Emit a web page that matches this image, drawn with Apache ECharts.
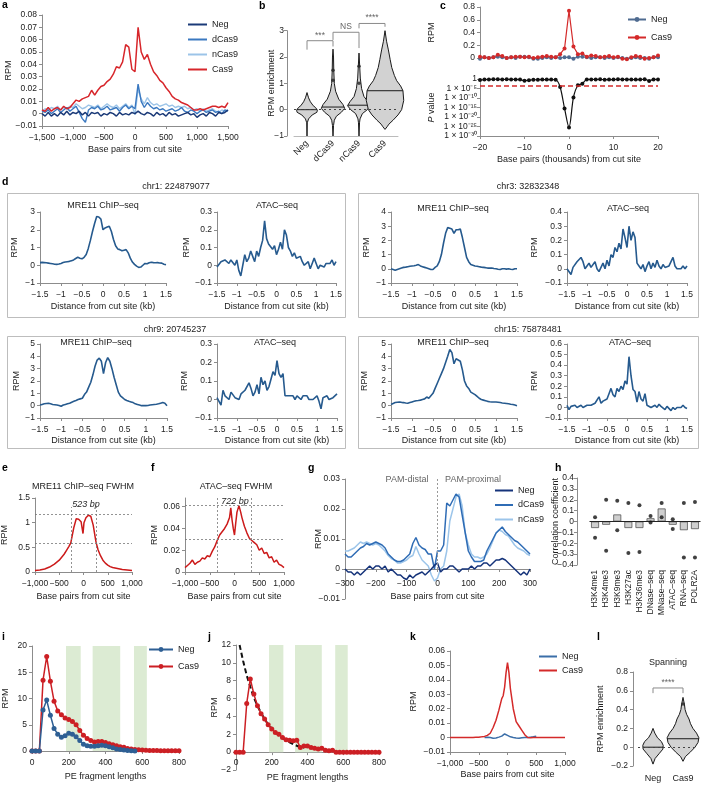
<!DOCTYPE html>
<html><head><meta charset="utf-8"><title>chart</title>
<script src="https://cdn.jsdelivr.net/npm/echarts@6/dist/echarts.min.js"></script>
<style>html,body{margin:0;padding:0;background:#fff;}#chart{width:705px;height:785px;}</style>
</head><body><div id="chart"></div>
<script>
// ================= DATA =================
// Panel a
const aX = [-1500,-1450,-1400,-1350,-1300,-1250,-1200,-1150,-1100,-1050,-1000,-950,-900,-850,-800,-750,-700,-650,-600,-550,-500,-450,-400,-350,-300,-250,-200,-150,-100,-50,0,50,100,150,200,250,300,350,400,450,500,550,600,650,700,750,800,850,900,950,1000,1050,1100,1150,1200,1250,1300,1350,1400,1450,1500];
const aCas9 = [0.003,0.002,0.005,0.002,0.004,0.005,0.003,0.006,0.004,0.005, 0.008,0.011,0.010,0.012,0.013,0.014,0.019,0.015,0.019,0.022, 0.023,0.026,0.028,0.032,0.038,0.037,0.042,0.056,0.054,0.036, 0.034,0.070,0.050,0.044,0.048,0.040,0.034,0.031,0.027,0.025, 0.021,0.018,0.014,0.012,0.011,0.009,0.008,0.007,0.005,0.003, 0.003,0.004,0.003,0.004,0.005,0.006,0.006,0.005,0.006,0.005,0.009];
const aNeg = [0.000,-0.002,0.001,-0.002,0.000,-0.002,0.001,-0.001,0.002,-0.001, 0.001,0.000,0.002,-0.001,0.001,-0.002,0.001,0.000,0.001,-0.002, 0.000,-0.001,0.001,0.000,-0.002,0.001,-0.001,0.000,-0.001,0.001, 0.000,0.002,0.000,-0.001,0.001,0.000,-0.002,0.001,-0.001,0.000, -0.002,0.001,-0.001,0.000,-0.002,-0.001,0.000,0.001,-0.001,0.000, -0.003,-0.001,0.000,-0.002,0.001,0.000,-0.002,0.001,0.000,0.001,0.003];
const aDCas9 = [0.002,0.001,0.003,0.000,0.002,0.004,0.001,0.003,0.005,0.002, 0.004,0.006,0.001,-0.004,-0.007,0.003,0.005,0.004,0.006,0.003, 0.004,0.006,0.003,0.004,0.005,0.002,0.005,0.007,0.004,0.006, 0.004,0.024,0.010,0.005,0.009,0.006,0.004,0.005,0.003,0.004, 0.002,0.003,0.004,0.002,0.003,0.005,0.002,0.001,0.003,0.002, 0.000,0.002,0.003,0.001,0.002,0.003,0.001,0.002,0.000,0.003,0.002];
const aNCas9 = [0.002,0.004,0.003,0.005,0.004,0.006,0.003,0.005,0.004,0.006, 0.005,0.008,0.006,0.004,0.005,0.007,0.006,0.005,0.007,0.004, 0.006,0.008,0.006,0.005,0.007,0.004,0.006,0.008,0.005,0.007, -0.001,0.020,0.012,0.008,0.013,0.009,0.007,0.008,0.006,0.007, 0.008,0.006,0.007,0.005,0.006,0.005,0.006,0.004,0.005,0.003, 0.004,0.002,0.004,0.002,0.003,0.004,0.002,0.001,0.003,0.002,0.003];

// Panel b (violin profiles: [value, half-width as fraction of category band])
const bCats = ['Neg','dCas9','nCas9','Cas9'];
const bMedians = [0.0, 0.1, 0.17, 0.72];
const bViolinNeg = [[-1,0],[-0.5,0.01],[-0.35,0.06],[-0.2,0.2],[-0.1,0.38],[-0.02,0.4],[0.08,0.33],[0.15,0.24],[0.3,0.13],[0.45,0.06],[0.65,0]];
const bViolinDCas9 = [[-1,0],[-0.6,0.02],[-0.4,0.05],[-0.25,0.13],[-0.1,0.32],[0.05,0.45],[0.2,0.38],[0.4,0.22],[0.7,0.1],[1.0,0.05],[1.5,0.03],[2.0,0.02],[2.3,0]];
const bViolinNCas9 = [[-1,0],[-0.5,0.02],[-0.35,0.04],[-0.15,0.13],[0,0.32],[0.15,0.44],[0.3,0.35],[0.5,0.19],[0.8,0.1],[1.2,0.05],[1.6,0.03],[2.15,0]];
const bViolinCas9 = [[-0.75,0],[-0.65,0.08],[-0.55,0.15],[-0.4,0.31],[-0.2,0.5],[0,0.64],[0.35,0.72],[0.72,0.69],[0.9,0.6],[1.1,0.45],[1.3,0.36],[1.6,0.26],[1.9,0.2],[2.27,0.13],[2.6,0.06],[3.0,0]];
const bDots = [[1,1.12],[1,1.5],[2,1.0],[2,1.65]];
const bBrackets = [[0,1,2.62,2.28,2.40],[1,2,2.94,2.65,2.34],[2,3,3.275,3.09,3.15]];
const bSig = ['***','NS','****'];

// Panel c
const cX = [-20,-19,-18,-17,-16,-15,-14,-13,-12,-11,-10,-9,-8,-7,-6,-5,-4,-3,-2,-1,0,1,2,3,4,5,6,7,8,9,10,11,12,13,14,15,16,17,18,19,20];
const cCas9 = [0.02,0.01,0.00,0.01,0.05,0.03,0.00,0.01,0.02,0.02,0.01,0.02,0.00,0.01,0.02,0.03,0.02,0.01,0.06,0.15,0.74,0.18,0.06,0.07,0.02,0.04,0.03,0.01,0.02,0.03,0.01,0.02,-0.01,-0.02,0.01,0.03,0.02,-0.01,0.00,0.01,0.04];
const cNeg = [-0.01,0.01,0.00,0.01,0.02,0.01,0.00,0.01,0.00,0.02,0.02,0.01,-0.01,-0.01,0.00,0.01,0.00,0.01,0.00,0.01,0.01,-0.01,0.02,0.02,0.01,0.00,0.01,0.01,0.00,0.01,0.00,0.01,0.00,-0.01,0.00,0.01,0.00,0.00,-0.01,0.01,0.01];
const cLog10P = [-0.5,-0.3,-0.2,-0.1,-0.1,-0.2,-0.1,-0.2,-0.2,-0.3,-0.9,-0.6,-0.4,-0.4,-0.3,-0.3,-0.3,-0.4,-4.2,-15.5,-25.5,-9.7,-3.3,-2.5,-0.2,-0.2,-0.2,-0.1,-0.4,-0.3,-0.3,-0.1,-0.2,-0.2,-0.3,-0.3,-0.3,-0.1,-1.0,-0.2,-0.2];
const cThreshold = -3.6;

// Panel d
const dX = [-1.5,-1.45,-1.4,-1.35,-1.3,-1.25,-1.2,-1.15,-1.1,-1.05,-1,-0.95,-0.9,-0.85,-0.8,-0.75,-0.7,-0.65,-0.6,-0.55,-0.5,-0.45,-0.4,-0.35,-0.3,-0.25,-0.2,-0.15,-0.1,-0.05,0,0.05,0.1,0.15,0.2,0.25,0.3,0.35,0.4,0.45,0.5,0.55,0.6,0.65,0.7,0.75,0.8,0.85,0.9,0.95,1,1.05,1.1,1.15,1.2,1.25,1.3,1.35,1.4,1.45,1.5];
const dChr1Mre11 = [0.15,0.16,0.15,0.14,0.12,0.10,0.08,0.06,0.05,0.07, 0.10,0.15,0.18,0.20,0.22,0.26,0.30,0.38,0.45,0.40, 0.36,0.45,0.60,0.95,1.40,1.90,2.35,2.75,2.72,2.60, 2.00,2.10,2.15,2.20,1.90,1.45,1.10,0.92,0.88,0.82, 0.85,0.88,0.70,0.40,0.18,0.05,-0.05,-0.12,-0.10,0.00, 0.10,0.08,0.14,0.17,0.15,0.14,0.15,0.13,0.12,0.06,0.03];
const dChr1Atac = [-0.01,0.00,0.02,0.01,0.03,0.02,0.01,0.03,0.04,0.00, 0.03,-0.03,-0.06,0.00,0.06,0.02,0.04,0.08,0.05,0.02, 0.08,0.05,0.10,0.14,0.25,0.15,0.12,0.13,0.09,0.11, 0.06,0.09,0.13,0.09,0.20,0.17,0.10,0.08,0.05,0.07, 0.04,0.03,0.05,0.02,0.00,0.01,0.02,-0.02,0.01,0.04, 0.01,-0.02,0.00,0.01,-0.01,0.01,0.00,0.01,0.03,0.00,0.02];
const dChr3Mre11 = [0.00,-0.05,-0.10,-0.05,0.00,0.05,0.10,0.12,0.15,0.18, 0.20,0.22,0.25,0.30,0.20,0.15,0.10,0.05,0.00,-0.05, -0.05,0.10,0.20,0.50,1.00,1.80,2.50,2.90,2.85,2.80, 2.50,2.75,2.75,2.80,2.20,1.50,0.80,0.50,0.30,0.25, 0.20,0.18,0.15,0.12,0.10,0.08,0.05,0.05,0.05,0.02, 0.00,-0.03,-0.05,0.00,0.00,-0.02,0.00,-0.03,-0.05,0.00,0.00];
const dChr3Atac = [0.00,-0.01,-0.04,0.01,0.02,0.05,0.04,0.08,0.05,0.00, 0.02,0.04,0.01,0.00,0.05,0.00,-0.02,0.01,0.04,0.00, 0.06,0.02,0.10,0.08,0.15,0.12,0.18,0.14,0.28,0.22, 0.15,0.30,0.20,0.26,0.22,0.04,0.02,0.00,0.03,-0.02, 0.02,0.05,0.00,0.04,0.01,0.06,0.02,0.00,0.03,0.01, 0.00,0.02,0.03,0.08,0.02,0.00,0.01,0.00,0.02,0.00,0.02];
const dChr9Mre11 = [0.05,0.10,0.15,0.18,0.20,0.15,0.10,0.08,0.05,0.02, -0.05,0.05,0.10,0.15,0.20,0.28,0.35,0.42,0.50,0.55, 0.60,0.90,1.10,1.50,1.90,2.50,3.20,3.70,3.85,3.60, 2.60,3.50,3.90,3.60,3.00,2.30,1.70,1.10,0.80,0.65, 0.50,0.42,0.35,0.30,0.25,0.15,0.10,0.05,0.00,0.00, 0.00,0.02,0.05,0.08,0.10,0.12,0.15,0.20,0.25,0.20,0.00];
const dChr9Atac = [0.01,0.00,-0.03,0.05,0.02,0.03,0.00,0.04,0.03,0.01, 0.02,0.00,0.03,0.02,0.05,0.04,0.09,0.06,0.02,0.04, 0.08,0.03,0.12,0.08,0.10,0.05,0.07,0.08,0.15,0.13, 0.21,0.14,0.12,0.14,0.02,0.01,0.02,0.01,0.02,0.00, 0.02,0.01,0.00,0.02,0.01,0.02,0.00,0.01,0.00,-0.01, 0.02,-0.01,-0.05,0.01,0.00,0.02,0.00,-0.01,0.01,0.00,0.03];
const dChr15Mre11 = [0.10,0.18,0.25,0.28,0.30,0.27,0.25,0.22,0.20,0.25, 0.30,0.35,0.40,0.42,0.45,0.50,0.55,0.70,0.60,0.80, 1.00,1.40,1.80,2.20,2.60,3.00,3.50,4.00,4.55,4.30, 3.40,3.80,3.70,3.60,2.90,2.00,1.60,1.40,1.10,1.00, 0.90,0.75,0.60,0.50,0.45,0.40,0.35,0.32,0.30,0.30, 0.30,0.28,0.25,0.22,0.20,0.18,0.15,0.12,0.10,0.05,0.00];
const dChr15Atac = [0.02,-0.02,0.01,0.00,0.02,0.00,0.01,0.02,0.00,0.01, 0.02,0.01,0.02,0.03,0.04,0.05,0.10,0.04,0.06,0.05, 0.08,0.13,0.18,0.12,0.10,0.18,0.15,0.20,0.17,0.25, 0.22,0.48,0.30,0.17,0.15,0.05,0.15,0.08,0.06,0.13, 0.02,0.03,0.00,0.01,0.02,0.00,0.03,0.01,0.02,-0.02, 0.01,0.00,-0.03,0.00,-0.02,0.00,-0.01,0.00,0.02,0.00,-0.01];

// Panel e, f
const eX = [-1000,-950,-900,-850,-800,-750,-700,-650,-600,-550,-500,-450,-400,-350,-300,-262,-250,-200,-150,-100,-50,-10,10,50,100,125,150,200,250,262,300,350,400,450,500,550,600,650,700,750,800,850,900,950,1000];
const eY = [0.03,0.035,0.04,0.05,0.06,0.08,0.10,0.13,0.16,0.20,0.24,0.30,0.36,0.44,0.52,0.59,0.63,0.90,1.08,1.07,1.02,0.78,1.00,1.10,1.15,1.17,1.13,0.95,0.65,0.59,0.45,0.33,0.24,0.18,0.14,0.11,0.09,0.08,0.07,0.06,0.05,0.045,0.04,0.035,0.03];
const eFwhmX = [-262, 262];
const eFwhmY = [1.18, 0.59];
const fX = [-1000,-950,-900,-850,-800,-750,-700,-650,-600,-550,-500,-450,-400,-350,-300,-250,-200,-150,-100,-75,-50,-25,0,25,50,90,125,150,200,250,300,350,400,450,500,550,600,650,700,750,800,850,900,950,1000];
const fY = [0.004,0.006,0.008,0.011,0.007,0.009,0.010,0.013,0.012,0.015,0.014,0.019,0.023,0.029,0.034,0.037,0.040,0.044,0.050,0.059,0.048,0.040,0.034,0.045,0.055,0.061,0.055,0.050,0.042,0.036,0.031,0.029,0.027,0.025,0.020,0.022,0.017,0.018,0.013,0.014,0.009,0.011,0.007,0.006,0.004];
const fFwhmX = [-340, 340];
const fFwhmY = [0.061, 0.0305];

// Panel g
const gX = [-300,-290,-280,-270,-260,-250,-240,-230,-220,-210,-200,-190,-180,-170,-160,-150,-140,-130,-120,-110,-100,-90,-80,-70,-60,-50,-40,-30,-20,-10,0,10,20,30,40,50,60,70,80,90,100,110,120,130,140,150,160,170,180,190,200,210,220,230,240,250,260,270,280,290,300];
const gNeg = [0.000,-0.001,-0.001,-0.002,-0.001,-0.002,-0.001,0.000,0.001,0.000, 0.001,0.001,0.000,0.001,-0.001,0.000,-0.001,-0.002,-0.002,-0.003, -0.0035,-0.002,-0.003,-0.002,-0.0015,-0.001,-0.002,-0.001,0.000,0.0012, 0.002,-0.001,0.000,0.000,0.001,0.001,0.000,-0.001,0.000,0.000, 0.000,0.001,0.000,0.001,0.001,0.002,0.002,0.001,0.002,0.003, 0.003,0.0035,0.003,0.002,0.001,0.000,-0.001,-0.002,-0.001,-0.002,0.000];
const gDCas9 = [0.005,0.004,0.004,0.005,0.006,0.007,0.0075,0.0085,0.008,0.0085, 0.009,0.0085,0.008,0.007,0.005,0.004,0.003,0.0025,0.0025,0.003, 0.004,0.005,0.0085,0.0105,0.008,0.007,0.0065,0.005,0.005,0.000, 0.006,0.006,0.008,0.022,0.021,0.023,0.025,0.024,0.018,0.012, 0.006,0.004,0.0025,0.0025,0.0025,0.003,0.006,0.008,0.010,0.012, 0.013,0.014,0.0125,0.0115,0.0105,0.0095,0.009,0.008,0.007,0.006,0.005];
const gNCas9 = [0.006,0.006,0.0065,0.007,0.008,0.009,0.0085,0.009,0.0085,0.008, 0.0085,0.008,0.007,0.006,0.0045,0.0035,0.003,0.002,0.002,0.0025, 0.003,0.004,0.0045,0.0075,0.005,0.003,0.002,0.001,-0.002,-0.004, -0.003,0.000,0.001,0.006,0.016,0.020,0.024,0.025,0.021,0.012, 0.008,0.005,0.004,0.004,0.0035,0.004,0.005,0.007,0.0095,0.012, 0.013,0.0125,0.0115,0.011,0.0095,0.008,0.007,0.0065,0.006,0.005,0.0045];

// Panel h
const hCats = ['H3K4me1','H3K4me3','H3K9me3','H3K27ac','H3K36me3','DNase–seq','MNase–seq','ATAC–seq','RNA–seq','POLR2A'];
const hBar = [-0.06,-0.03,0.065,-0.06,-0.06,0.03,0.12,-0.03,-0.08,-0.07];
const hHigh = [0.04,0.20,0.19,0.17,0.15,0.05,0.17,0.02,0.17,0.18];
const hLow = [-0.15,-0.27,-0.08,-0.29,-0.28,-0.01,0.04,-0.07,-0.33,-0.33];

// Panel i, j
const iX = [0,20,40,60,80,100,120,140,160,180,200,220,240,260,280,300,320,340,360,380,400,420,440,460,480,500,520,540,560,580,600,620,640,660,680,700,720,740,760,780,800];
const iCas9 = [0,0,0,13.5,18.0,13.3,9.5,7.6,6.9,6.3, 6.0,5.6,5.0,3.9,3.0,2.4,2.0,1.7,1.8,1.8, 1.6,1.4,1.2,1.0,0.8,0.7,0.5,0.4,0.3,0.25, 0.2,0.15,0.1,0.1,0.08,0.06,0.05,0.05,0.04,0.03,0.03];
const iNeg = [0,0,0,7.8,9.7,6.8,4.3,3.2,2.6,2.9, 3.4,3.2,2.7,2.0,1.3,1.0,0.9,0.9,1.0,1.1, 1.0,0.8,0.6,0.4,0.3,0.2,0.1,0.05,0.02];
const fragBands = [[185,265],[330,480],[555,625]];
const jCas9 = [0,0,0,5.45,8.2,6.5,5.2,4.3,3.7,3.06, 2.6,2.2,2.0,1.64,1.4,1.34,1.27,1.34,0.52,0.7, 0.7,0.52,0.45,0.34,0.45,0.22,0.15,0.22,0,0, 0,0,0,0,0,0,0,0,0,0,0];
const jFitX = [20,40,60,80,100,120,140,160,180,200,220,240,260,280,300,320,340,360,380];
const jFit = [12.0,10.2,8.6,7.3,6.1,5.2,4.4,3.7,3.1,2.65,2.25,1.9,1.6,1.35,1.1,0.9,0.72,0.58,0.47];

// Panel k
const kX = [-1000,-950,-900,-850,-800,-750,-700,-650,-600,-550,-500,-450,-400,-350,-300,-250,-200,-150,-100,-75,-50,-25,0,25,50,100,125,150,200,250,300,350,400,450,500,550,600,650,700,750,800,850,900,950,1000];
const kCas9 = [0,0,0,0,0,0,0,0,0,0.0002,0.0003,0.0005,0.0008,0.0015,0.003,0.007,0.012,0.019,0.027,0.029,0.035,0.045,0.052,0.045,0.034,0.02,0.0155,0.011,0.008,0.005,0.002,0,-0.0002,0,0,0,0,0,0,0,0,0,0,0,0];
const kNegX = [-400,-350,-300,-250,-200,-150,-100,-50,0,50,100,150,200,250,300,350,400,450,500];
const kNeg = [0,0.0003,0,-0.0005,-0.0003,0.0003,0.001,0.0025,0.0015,0.0005,0,-0.0003,-0.0005,-0.0002,0,0,0.0003,0.0005,0.001];

// Panel l
const lCats = ['Neg','Cas9'];
const lMedians = [0.0, 0.09];
const lViolinNeg = [[-0.18,0],[-0.12,0.07],[-0.07,0.2],[-0.02,0.33],[0.02,0.34],[0.06,0.28],[0.1,0.15],[0.15,0.06],[0.2,0]];
const lViolinCas9 = [[-0.15,0],[-0.1,0.08],[-0.05,0.25],[0,0.4],[0.05,0.5],[0.1,0.53],[0.15,0.45],[0.2,0.33],[0.25,0.25],[0.3,0.2],[0.35,0.12],[0.4,0.07],[0.45,0.05],[0.53,0]];
const lDots = [[1,0.46]];
const lBrackets = [[0,1,0.63,0.575,0.575]];
const lSig = ['****'];

// ================= BUILD =================
const FONT = '"Liberation Sans", Arial, Helvetica, sans-serif';
const TC = '#222', AC = '#8c8c8c';
function fmt(v){
  v = Math.round(v*1e6)/1e6;
  const s = Math.abs(v).toLocaleString('en-US',{maximumFractionDigits:4});
  return (v<0?'\u2212':'') + s;
}
const SUP = {'-':'\u207B','0':'\u2070','1':'\u00B9','2':'\u00B2','3':'\u00B3','4':'\u2074','5':'\u2075','6':'\u2076','7':'\u2077','8':'\u2078','9':'\u2079'};
function pfmt(v){ v=Math.round(v); if(v===0) return '1'; return '1 \u00D7 10' + String(v).split('').map(c=>SUP[c]).join(''); }

const gridBoxes = [
  [42,15,186,111],      //0 a
  [294,30.7,104,105.3], //1 b
  [480,7,178,51],       //2 c top
  [480,79,178,57],      //3 c bottom
  [40,212,126,71],      //4 d1L
  [217,212,119,71],     //5 d1R
  [391,212,126,71],     //6 d2L
  [567,212,120,71],     //7 d2R
  [40,344,127,74],      //8 d3L
  [217,344,120,74],     //9 d3R
  [391,344,126,74],     //10 d4L
  [567,344,120,74],     //11 d4R
  [35,498,97,74],       //12 e
  [185,498,99,74],      //13 f
  [345,479,185,120],    //14 g
  [589.5,478,111,87],   //15 h
  [32,646,147,105],     //16 i
  [236,645,143,125],    //17 j
  [450,651,115,101],    //18 k
  [638,672,60,94]       //19 l
];
const grids = gridBoxes.map(b=>({left:b[0],top:b[1],width:b[2],height:b[3],containLabel:false,outerBoundsMode:'none'}));

function vax(gi,min,max,interval,o){
  o=o||{};
  const ax = {
    type:'value', gridIndex:gi, min:min, max:max, interval:interval, show:o.show!==false,
    offset:o.offset||0, scale:false,
    axisLine:{show:true,onZero:false,lineStyle:{color:AC,width:1}},
    axisTick:{show:true,length:3,lineStyle:{color:AC}},
    splitLine:{show:false},
    axisLabel:{formatter:o.fmt||fmt,fontSize:8.5,color:TC,fontFamily:FONT,margin:o.margin==null?5:o.margin},
    name:o.name||'', nameLocation:'middle', nameGap:o.gap||20, nameMoveOverlap:false,
    nameTextStyle:{fontSize:9,color:TC,fontFamily:FONT}
  };
  if(o.showMax===false) ax.axisLabel.showMaxLabel=false;
  if(o.rich) ax.nameTextStyle.rich=o.rich;
  return ax;
}
function xax(gi,min,max,interval,o){ o=o||{}; if(o.margin==null) o.margin=7; return vax(gi,min,max,interval,o); }
function cax(gi,data,o){
  return {type:'category',gridIndex:gi,data:data,boundaryGap:true,
    axisLine:{show:!!o.line,onZero:false,lineStyle:{color:'#bbb'}},axisTick:{show:false},splitLine:{show:false},
    axisLabel:{rotate:o.rotate||0,fontSize:o.fs||8.5,color:TC,fontFamily:FONT,margin:o.margin||5,interval:0}};
}
function pairs(xs,ys){ return ys.map((y,k)=>[xs[k],y]); }
function lineS(name,gi,xs,ys,color,w,extra){
  return Object.assign({type:'line',name:name,xAxisIndex:gi,yAxisIndex:gi,data:pairs(xs,ys),symbol:'none',showSymbol:false,
    color:color,lineStyle:{color:color,width:w},itemStyle:{color:color},animation:false,silent:true,z:2},extra||{});
}
const xAxes=[], yAxes=[], series=[], legends=[], graphics=[];

// ---- a ----
xAxes[0]=xax(0,-1500,1500,500,{name:'Base pairs from cut site',gap:19});
yAxes[0]=vax(0,-0.01,0.08,0.01,{name:'RPM',gap:29});
series.push(lineS('a_nCas9',0,aX,aNCas9,'#9cc4e8',1.4));
series.push(lineS('a_dCas9',0,aX,aDCas9,'#3a78c0',1.4));
series.push(lineS('a_Neg',0,aX,aNeg,'#1b3a78',1.5));
series.push(lineS('a_Cas9',0,aX,aCas9,'#d7262b',1.5));

// ---- violin helpers ----
function violinRender(profiles){
  return function(params, api){
    const i=params.dataIndex, prof=profiles[i], med=api.value(1);
    const band=api.size([1,0])[0];
    const cx=api.coord([i,0])[0];
    const right=prof.map(p=>[cx+p[1]*band, api.coord([i,p[0]])[1]]);
    const left=prof.slice().reverse().map(p=>[cx-p[1]*band, api.coord([i,p[0]])[1]]);
    let w=0;
    for(let k=0;k<prof.length-1;k++){const a=prof[k],b=prof[k+1]; if(med>=a[0]&&med<=b[0]){w=a[1]+(b[1]-a[1])*(med-a[0])/(b[0]-a[0]);break;}}
    const my=api.coord([i,med])[1];
    return {type:'group',children:[
      {type:'polygon',shape:{points:right.concat(left)},style:{fill:'#d2d2d2',stroke:'#1a1a1a',lineWidth:1}},
      {type:'line',shape:{x1:cx-w*band,y1:my,x2:cx+w*band,y2:my},style:{stroke:'#1a1a1a',lineWidth:1}}
    ]};
  };
}
function bracketRender(labels){
  return function(params, api){
    const p1=api.coord([api.value(0),api.value(2)]), p2=api.coord([api.value(1),api.value(2)]);
    const yl=api.coord([api.value(0),api.value(3)])[1], yr=api.coord([api.value(1),api.value(4)])[1];
    return {type:'group',children:[
      {type:'polyline',shape:{points:[[p1[0],yl],[p1[0],p1[1]],[p2[0],p2[1]],[p2[0],yr]]},style:{stroke:'#8a8a8a',fill:null,lineWidth:1}},
      {type:'text',x:(p1[0]+p2[0])/2,y:p1[1]-1,style:{text:labels[params.dataIndex],fill:'#666',fontSize:8.5,fontFamily:FONT,align:'center',verticalAlign:'bottom'}}
    ]};
  };
}
function zeroLine(gi){
  return {type:'line',name:'zero'+gi,xAxisIndex:gi,yAxisIndex:gi,data:[],silent:true,animation:false,z:1,
    markLine:{silent:true,symbol:['none','none'],label:{show:false},animation:false,
      lineStyle:{color:'#444',type:[2,3],width:1},data:[{yAxis:0}]}};
}

// ---- b ----
xAxes[1]=cax(1,bCats,{rotate:45,line:true,margin:6,fs:9});
yAxes[1]=vax(1,-1,3,1,{name:'RPM enrichment',gap:11,offset:7,margin:3});
series.push(zeroLine(1));
series.push({type:'custom',name:'bViolin',xAxisIndex:1,yAxisIndex:1,renderItem:violinRender([bViolinNeg,bViolinDCas9,bViolinNCas9,bViolinCas9]),
  data:bMedians.map((m,i)=>[i,m]),encode:{x:0,y:1},silent:true,animation:false,z:3});
series.push({type:'scatter',name:'bDots',xAxisIndex:1,yAxisIndex:1,data:bDots,symbolSize:3.5,itemStyle:{color:'#222'},silent:true,animation:false,z:4});
series.push({type:'custom',name:'bSig',xAxisIndex:1,yAxisIndex:1,renderItem:bracketRender(bSig),data:bBrackets,encode:{x:0,y:2},silent:true,animation:false,clip:false,z:4});

// ---- c ----
xAxes[2]=vax(2,-20,20,10,{show:false});
yAxes[2]=vax(2,0,0.8,0.2,{name:'RPM',gap:44});
series.push(lineS('c_Neg',2,cX,cNeg,'#4f6b90',1.2,{symbol:'circle',showSymbol:true,symbolSize:4,clip:false}));
series.push(lineS('c_Cas9',2,cX,cCas9,'#d42a2a',1.2,{symbol:'circle',showSymbol:true,symbolSize:4,clip:false}));
xAxes[3]=xax(3,-20,20,10,{name:'Base pairs (thousands) from cut site',gap:19});
yAxes[3]=vax(3,-30,0,5,{name:'{i|P} value',gap:44,fmt:pfmt,margin:3,rich:{i:{fontStyle:'italic',fontSize:9,fontFamily:FONT,color:TC}}});
series.push(lineS('c_P',3,cX,cLog10P,'#111',1.2,{symbol:'circle',showSymbol:true,symbolSize:4,smooth:0.3,
  markLine:{silent:true,symbol:['none','none'],label:{show:false},animation:false,lineStyle:{color:'#d42a2a',type:[5,3],width:1.5},data:[{yAxis:cThreshold}]}}));

// ---- d ----
const dSets = [
  [4,dChr1Mre11,-1,3,1,20.5],[5,dChr1Atac,-0.1,0.3,0.1,25.5],
  [6,dChr3Mre11,-1,4,1,19.5],[7,dChr3Atac,-0.1,0.4,0.1,27.5],
  [8,dChr9Mre11,-1,5,1,18.5],[9,dChr9Atac,-0.1,0.3,0.1,27.5],
  [10,dChr15Mre11,-1,5,1,21.5],[11,dChr15Atac,-0.1,0.6,0.1,27.5]
];
dSets.forEach(s=>{
  const gi=s[0];
  xAxes[gi]=xax(gi,-1.5,1.5,0.5,{name:'Distance from cut site (kb)',gap:gi<8?19:18.5});
  yAxes[gi]=vax(gi,s[2],s[3],s[4],{name:'RPM',gap:s[5]});
  series.push(lineS('d'+gi,gi,dX,s[1],'#265a8e',1.6));
});

// ---- e, f ----
function fwhmMarks(xs,ys,top){
  return {silent:true,symbol:['none','none'],label:{show:false},animation:false,
    lineStyle:{color:'#777',type:[2,2],width:0.8},
    data:[
      [{coord:[-1000,ys[0]]},{coord:[1000,ys[0]]}],
      [{coord:[-1000,ys[1]]},{coord:[1000,ys[1]]}],
      [{coord:[xs[0],0]},{coord:[xs[0],top]}],
      [{coord:[xs[1],0]},{coord:[xs[1],top]}]
    ]};
}
xAxes[12]=xax(12,-1000,1000,500,{name:'Base pairs from cut site',gap:20});
yAxes[12]=vax(12,0,1.5,0.5,{name:'RPM',gap:26});
series.push(lineS('e',12,eX,eY,'#cc1a1a',1.5,{markLine:fwhmMarks(eFwhmX,eFwhmY,1.32)}));
xAxes[13]=xax(13,-1000,1000,500,{name:'Base pairs from cut site',gap:20});
yAxes[13]=vax(13,0,0.068,0.02,{name:'RPM',gap:26,showMax:false});
series.push(lineS('f',13,fX,fY,'#cc1a1a',1.5,{markLine:fwhmMarks(fFwhmX,fFwhmY,0.068)}));

// ---- g ---- (x axis sits on the zero line: grid height 120 px spans 0.04 -> 0.01 = 30 px)
xAxes[14]=xax(14,-300,300,100,{offset:-30,name:'Base pairs from cut site',gap:23,margin:10});
yAxes[14]=vax(14,-0.01,0.03,0.01,{name:'RPM',gap:22});
series.push(lineS('g_nCas9',14,gX,gNCas9,'#9cc5ea',1.5,{markLine:{silent:true,symbol:['none','none'],label:{show:false},animation:false,
  lineStyle:{color:'#999',type:[2,2],width:1},data:[[{coord:[0,0]},{coord:[0,0.03]}]]}}));
series.push(lineS('g_dCas9',14,gX,gDCas9,'#2f6cb5',1.5));
series.push(lineS('g_Neg',14,gX,gNeg,'#15337a',1.5));

// ---- h ----
xAxes[15]=cax(15,hCats,{rotate:90,margin:5});
yAxes[15]=vax(15,-0.4,0.4,0.1,{name:'Correlation coefficient',gap:17,offset:12.5,margin:3});
series.push({type:'bar',name:'hBar',xAxisIndex:15,yAxisIndex:15,data:hBar,barWidth:8,
  itemStyle:{color:'#cfcfcf',borderColor:'#555',borderWidth:0.8},silent:true,animation:false,
  markLine:{silent:true,symbol:['none','none'],label:{show:false},animation:false,lineStyle:{color:'#222',type:'solid',width:1},data:[{yAxis:0}]}});
series.push({type:'scatter',name:'hHigh',xAxisIndex:15,yAxisIndex:15,data:hHigh,symbolSize:4,itemStyle:{color:'#111'},silent:true,animation:false,z:5});
series.push({type:'scatter',name:'hLow',xAxisIndex:15,yAxisIndex:15,data:hLow,symbolSize:4,itemStyle:{color:'#111'},silent:true,animation:false,z:5});

// ---- i ----
function bandMarks(top){
  return {silent:true,animation:false,itemStyle:{color:'#dcebd3'},label:{show:false},
    data:fragBands.map(b=>[{xAxis:b[0],yAxis:top},{xAxis:b[1],yAxis:0}])};
}
xAxes[16]=xax(16,0,800,200,{name:'PE fragment lengths',gap:21});
yAxes[16]=vax(16,0,20,5,{name:'RPM',gap:22});
series.push(lineS('i_Cas9',16,iX,iCas9,'#cc1f24',1.5,{symbol:'circle',showSymbol:true,symbolSize:5,markArea:bandMarks(20)}));
series.push(lineS('i_Neg',16,iX,iNeg,'#2e5f94',1.5,{symbol:'circle',showSymbol:true,symbolSize:5}));

// ---- j ---- (x axis on the zero line: 125 px for 14 units -> 2 units = 17.86 px)
xAxes[17]=xax(17,0,800,200,{offset:-17.86,name:'PE fragment lengths',gap:21,margin:6});
yAxes[17]=vax(17,-2,12,2,{name:'RPM',gap:17});
series.push(lineS('j_Fit',17,jFitX,jFit,'#111',2,{lineStyle:{color:'#111',width:2,type:[5,3]},markArea:bandMarks(12)}));
series.push(lineS('j_Cas9',17,iX,jCas9,'#cc1f24',1.5,{symbol:'circle',showSymbol:true,symbolSize:5}));

// ---- k ----
xAxes[18]=xax(18,-1000,1000,500,{name:'Base pairs from cut site',gap:18});
yAxes[18]=vax(18,-0.01,0.06,0.01,{name:'RPM',gap:32});
series.push(lineS('k_Neg',18,kNegX,kNeg,'#3b6ea8',1.5));
series.push(lineS('k_Cas9',18,kX,kCas9,'#d42a2a',1.5));

// ---- l ----
xAxes[19]=cax(19,lCats,{margin:8,fs:9});
yAxes[19]=vax(19,-0.2,0.8,0.2,{name:'RPM enrichment',gap:28,offset:5});
series.push(zeroLine(19));
series.push({type:'custom',name:'lViolin',xAxisIndex:19,yAxisIndex:19,renderItem:violinRender([lViolinNeg,lViolinCas9]),
  data:lMedians.map((m,i)=>[i,m]),encode:{x:0,y:1},silent:true,animation:false,z:3});
series.push({type:'scatter',name:'lDots',xAxisIndex:19,yAxisIndex:19,data:lDots,symbolSize:3.5,itemStyle:{color:'#222'},silent:true,animation:false,z:4});
series.push({type:'custom',name:'lSig',xAxisIndex:19,yAxisIndex:19,renderItem:bracketRender(lSig),data:lBrackets,encode:{x:0,y:2},silent:true,animation:false,clip:false,z:4});

// ---- legends ----
const legText = {fontSize:9,color:TC,fontFamily:FONT};
const strip = n=>n.replace(/^[^_]*_/,'');
legends.push({left:183,top:15,orient:'vertical',icon:'rect',itemWidth:19,itemHeight:2,itemGap:6,selectedMode:false,textStyle:legText,formatter:strip,data:['a_Neg','a_dCas9','a_nCas9','a_Cas9']});
legends.push({left:622,top:10,orient:'vertical',itemWidth:18,itemHeight:6,itemGap:9,selectedMode:false,textStyle:legText,formatter:strip,data:['c_Neg','c_Cas9']});
legends.push({left:490,top:481,orient:'vertical',icon:'rect',itemWidth:18,itemHeight:2,itemGap:5.5,selectedMode:false,textStyle:legText,formatter:strip,data:['g_Neg','g_dCas9','g_nCas9']});
legends.push({left:143,top:640,orient:'vertical',itemWidth:24,itemHeight:6,itemGap:8,selectedMode:false,textStyle:legText,formatter:strip,data:['i_Neg','i_Cas9']});
legends.push({left:534,top:647,orient:'vertical',icon:'rect',itemWidth:18,itemHeight:2,itemGap:5,selectedMode:false,textStyle:legText,formatter:strip,data:['k_Neg','k_Cas9']});

// ---- graphics (text, boxes) ----
function T(x,y,text,o){ graphics.push({type:'text',x:x,y:y,silent:true,style:Object.assign({text:text,fill:TC,fontSize:9,fontFamily:FONT,align:'center',verticalAlign:'middle'},o||{})}); }
function L(x,y,t){ T(x,y,t,{align:'left',fontWeight:'bold',fontSize:10.5,fill:'#000'}); }
[[2,5,'a'],[259,6,'b'],[440,6,'c'],[2,182,'d'],[2,468,'e'],[151,468,'f'],[308,468,'g'],[555,468,'h'],[2,637,'i'],[208,637,'j'],[410,637,'k'],[597,637,'l']].forEach(a=>L(a[0],a[1],a[2]));
[[7,193,338,124],[358,193,340,124],[7,336,338,112],[358,336,340,112]].forEach(r=>graphics.push({type:'rect',silent:true,shape:{x:r[0]+0.5,y:r[1]+0.5,width:r[2],height:r[3]},style:{fill:'none',stroke:'#bdbdbd',lineWidth:1}}));
T(176,187,'chr1: 224879077'); T(528,187,'chr3: 32832348'); T(175,330,'chr9: 20745237'); T(528,330,'chr15: 75878481');
T(103,206,'MRE11 ChIP–seq'); T(277,206,'ATAC–seq'); T(453,209,'MRE11 ChIP–seq'); T(628,209,'ATAC–seq');
T(96,343,'MRE11 ChIP–seq'); T(275,343,'ATAC–seq'); T(453,343,'MRE11 ChIP–seq'); T(630,343,'ATAC–seq');
T(83,487,'MRE11 ChIP–seq FWHM'); T(236,487,'ATAC–seq FWHM');
T(86,504,'523 bp',{fontStyle:'italic'}); T(235,501,'722 bp',{fontStyle:'italic'});
T(407,480,'PAM-distal',{fill:'#666'}); T(473,480,'PAM-proximal',{fill:'#666'});
T(668,663,'Spanning');

const chart = echarts.init(document.getElementById('chart'), null, {renderer:'canvas'});
chart.setOption({
  animation:false, backgroundColor:'#fff',
  textStyle:{fontFamily:FONT},
  grid:grids, xAxis:xAxes, yAxis:yAxes, series:series, legend:legends, graphic:graphics, tooltip:{show:false}
});
</script></body></html>
